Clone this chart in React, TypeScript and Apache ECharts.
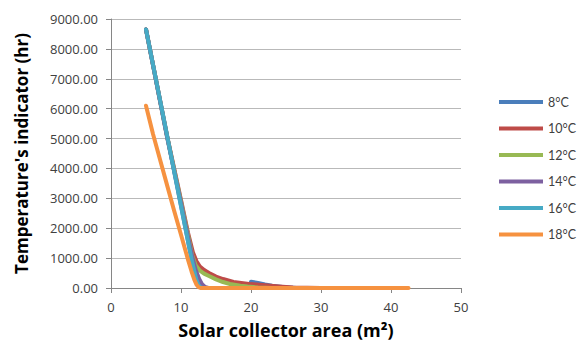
import React, { useEffect, useRef } from "react";
import * as echarts from "echarts";

const seriesNames = ["8°C", "10°C", "12°C", "14°C", "16°C", "18°C"];
const colors = ["#4A7EBB", "#BE4B48", "#98B954", "#7D60A0", "#46AAC5", "#F69240"];

const s8: number[][] = [[5, 8650], [11.5, 980], [11.9, 560], [12.2, 280], [12.5, 100], [12.8, 20], [13.1, 0], [19.9, 0], [20, 210], [21, 170], [22, 120], [23, 80], [24.5, 35], [26.5, 0]];
const s10: number[][] = [[5, 8650], [8, 5100], [10, 2950], [11, 1850], [11.7, 1200], [12.2, 900], [12.7, 720], [13.3, 600], [14, 500], [15, 380], [16, 300], [17.5, 200], [20, 130], [22, 90], [24, 50], [26, 20], [28, 5], [30, 0], [40, 0]];
const s12: number[][] = [[5, 8650], [8, 5080], [10, 2900], [11, 1780], [11.6, 1100], [12.1, 760], [12.7, 580], [13.3, 480], [14, 400], [15, 290], [16, 200], [17, 135], [18.5, 80], [19.5, 50], [21, 15], [23, 0], [30, 0]];
const s14: number[][] = [[5, 8650], [8, 5060], [10, 2850], [11, 1700], [11.6, 1050], [12.1, 600], [12.6, 300], [13, 130], [13.4, 40], [13.9, 0], [20, 0]];
const s16: number[][] = [[5, 8650], [11.5, 980], [11.9, 560], [12.2, 280], [12.5, 100], [12.8, 20], [13.1, 0], [20, 0]];
const s18: number[][] = [[5, 6100], [6, 5150], [7, 4300], [8, 3450], [9, 2600], [10, 1780], [11, 950], [11.5, 560], [11.9, 280], [12.2, 120], [12.5, 30], [12.8, 0], [42.5, 0]];

const allData = [s8, s10, s12, s14, s16, s18];
const yTicks = [0, 1000, 2000, 3000, 4000, 5000, 6000, 7000, 8000, 9000];

export default function App() {
  const ref = useRef<HTMLDivElement>(null);
  useEffect(() => {
    if (!ref.current) return;
    const chart = echarts.init(ref.current, undefined, { renderer: "svg" });
    const font = "'Open Sans', sans-serif";
    chart.setOption({
      animation: false,
      grid: { left: 111, right: 117, top: 19, bottom: 55, containLabel: false },
      legend: {
        orient: "vertical",
        left: 499,
        top: 95,
        padding: 0,
        icon: "rect",
        itemWidth: 44,
        itemHeight: 4,
        itemGap: 12.5,
        data: seriesNames,
        textStyle: { fontFamily: "Lato, sans-serif", fontSize: 12.5, color: "#404040", lineHeight: 14 },
      },
      xAxis: {
        type: "value",
        min: 0,
        max: 50,
        interval: 10,
        name: "Solar collector area (m²)",
        nameLocation: "middle",
        nameGap: 33,
        nameTextStyle: { fontFamily: font, fontSize: 18, fontWeight: "bold", color: "#000" },
        axisLine: { lineStyle: { color: "#868686" } },
        axisTick: { show: true, length: 5, lineStyle: { color: "#868686" } },
        axisLabel: { fontFamily: font, fontSize: 13, color: "#404040", margin: 12 },
        splitLine: { show: false },
      },
      yAxis: {
        type: "value",
        min: 0,
        max: 9000,
        interval: 1000,
        name: "Temperature's indicator (hr)",
        nameLocation: "middle",
        nameGap: 81,
        nameTextStyle: { fontFamily: font, fontSize: 17, fontWeight: "bold", color: "#000" },
        axisLine: { show: true, lineStyle: { color: "#868686" } },
        axisTick: { show: true, length: 5, lineStyle: { color: "#868686" } },
        axisLabel: {
          fontFamily: font,
          fontSize: 13,
          color: "#404040",
          margin: 13,
          formatter: (v: number) => (yTicks.includes(v) ? v.toFixed(2) : ""),
        },
        splitLine: { show: true, lineStyle: { color: "#B9B9B9", width: 1 } },
      },
      series: allData.map((d, i) => ({
        name: seriesNames[i],
        type: "line",
        data: d,
        smooth: false,
        showSymbol: false,
        symbol: "none",
        lineStyle: { color: colors[i], width: 4, cap: "round", join: "round" },
        itemStyle: { color: colors[i] },
      })),
    });
    return () => chart.dispose();
  }, []);
  return <div ref={ref} style={{ width: 578, height: 344, position: "absolute", left: 0, top: 0 }} />;
}
